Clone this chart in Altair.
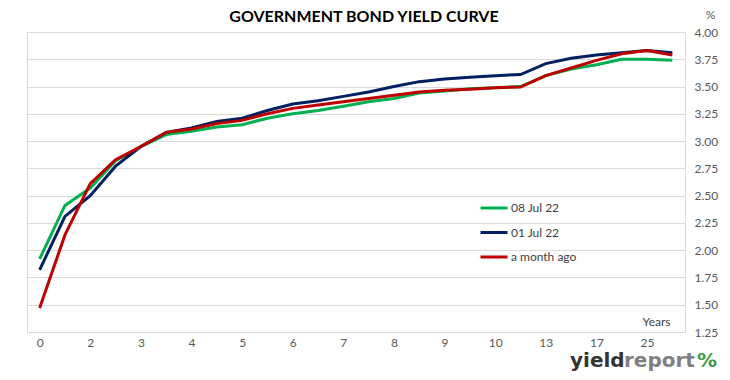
import altair as alt
import pandas as pd

# ---- data -------------------------------------------------------------
tick_labels = ["0", "2", "3", "4", "5", "6", "7", "8", "9", "10", "13", "17", "25"]
series_names = ["08 Jul 22", "01 Jul 22", "a month ago"]
series_colors = ["#00b050", "#002060", "#c00000"]

jul08 = [1.92, 2.41, 2.57, 2.82, 2.95, 3.06, 3.09, 3.13, 3.15, 3.21, 3.25, 3.28, 3.32,
         3.36, 3.39, 3.44, 3.46, 3.48, 3.49, 3.50, 3.60, 3.66, 3.70, 3.75, 3.75, 3.74]
jul01 = [1.82, 2.31, 2.50, 2.77, 2.95, 3.08, 3.12, 3.18, 3.21, 3.28, 3.34, 3.37, 3.41,
         3.45, 3.50, 3.545, 3.57, 3.585, 3.60, 3.61, 3.71, 3.76, 3.79, 3.81, 3.83, 3.81]
month_ago = [1.47, 2.14, 2.61, 2.83, 2.95, 3.08, 3.11, 3.16, 3.19, 3.25, 3.30, 3.33, 3.36,
             3.39, 3.42, 3.45, 3.465, 3.475, 3.49, 3.495, 3.60, 3.67, 3.74, 3.80, 3.83, 3.79]

rows = []
for name, vals in zip(series_names, [jul08, jul01, month_ago]):
    for i, v in enumerate(vals):
        rows.append({"idx": i, "yield": v, "series": name})
df = pd.DataFrame(rows)

FONT = "Lato"
GRID = "#d9d9d9"

label_expr = "[" + ",".join("'%s'" % t for t in tick_labels) + "][datum.value/2]"
tick_vals = [2 * k for k in range(len(tick_labels))]

lines = alt.Chart(df).mark_line(strokeWidth=3, clip=True).encode(
    x=alt.X("idx:Q",
            scale=alt.Scale(domain=[-0.5, len(jul08) - 0.5], nice=False, zero=False),
            axis=alt.Axis(values=tick_vals, labelExpr=label_expr, grid=False, ticks=False,
                          domain=True, domainColor=GRID, labelPadding=5,
                          labelFontSize=12, labelColor="#595959", labelFont=FONT,
                          title="Years", titleFont=FONT, titleFontSize=12,
                          titleFontWeight="normal", titleColor="#404040",
                          titleX=629, titleY=-11, titleAlign="center",
                          titleBaseline="middle")),
    y=alt.Y("yield:Q",
            scale=alt.Scale(domain=[1.25, 4.0], nice=False, zero=False),
            axis=alt.Axis(orient="right", values=[1.25 + 0.25 * k for k in range(12)],
                          format=".2f", grid=True, gridColor=GRID, domain=False,
                          ticks=False, labelPadding=9, labelFontSize=12,
                          labelColor="#595959", labelFont=FONT,
                          title="%", titleAngle=0, titleFont=FONT, titleFontSize=12,
                          titleFontWeight="normal", titleColor="#595959",
                          titleX=25, titleY=-18, titleAlign="center",
                          titleBaseline="middle")),
    color=alt.Color("series:N",
                    scale=alt.Scale(domain=series_names, range=series_colors),
                    legend=alt.Legend(title=None, orient="none", legendX=452, legendY=161,
                                      symbolType="stroke", symbolSize=729,
                                      symbolStrokeWidth=3, labelOffset=2, rowPadding=3.5,
                                      labelFontSize=12, labelFont=FONT,
                                      labelColor="#404040")),
)

logo_parts = ["yield", "report", "%"]
logo_colors = ["#333333", "#7f7f7f", "#3a9a4a"]
logo_x = [543, 597, 670]
logo_layers = []
for part, col, xx in zip(logo_parts, logo_colors, logo_x):
    logo_layers.append(
        alt.Chart(pd.DataFrame({"t": [part]})).mark_text(
            align="left", baseline="middle", font="DejaVu Sans", fontSize=20,
            fontWeight="bold", color=col
        ).encode(x=alt.value(xx), y=alt.value(329), text="t:N")
    )

chart = alt.layer(lines, *logo_layers).properties(
    width=658, height=300,
    autosize=alt.AutoSizeParams(type="none"),
    padding={"left": 19, "top": 24, "right": 37, "bottom": 40},
    title=alt.Title("GOVERNMENT BOND YIELD CURVE", font=FONT, fontSize=16,
                    fontWeight="bold", color="#000000", anchor="middle",
                    offset=-17, dx=8),
    background="white",
).configure_view(stroke=GRID, strokeWidth=1)

chart.save("out.html", embed_options={"renderer": "svg", "actions": False})
